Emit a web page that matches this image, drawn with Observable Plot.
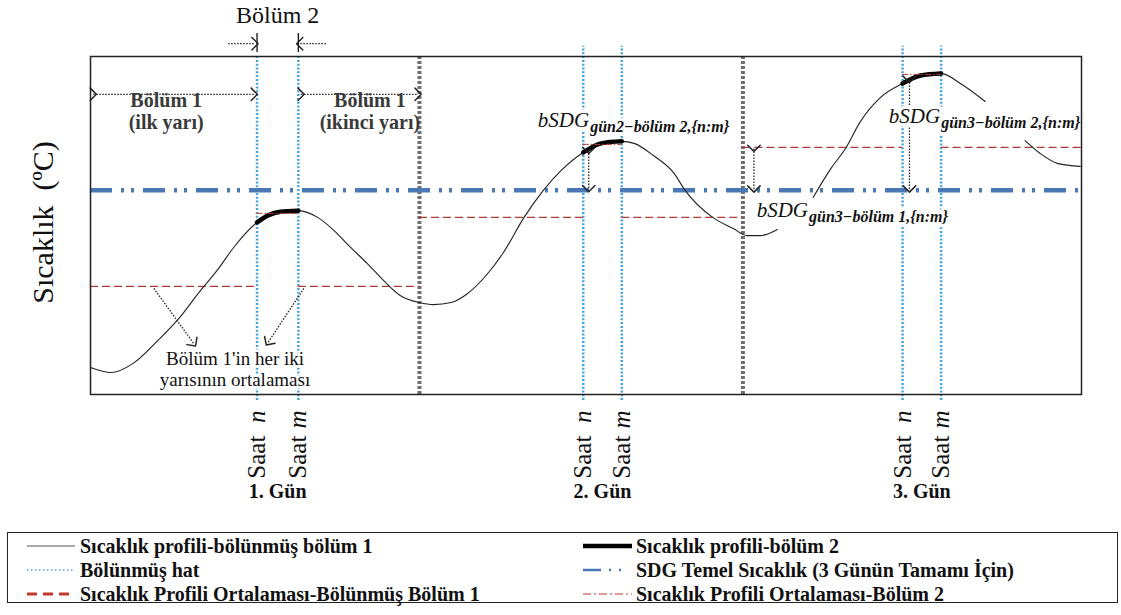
<!DOCTYPE html>
<html><head><meta charset="utf-8">
<script src="https://cdn.jsdelivr.net/npm/d3@7"></script>
<script src="https://cdn.jsdelivr.net/npm/@observablehq/plot@0.6"></script>
<style>
html,body{margin:0;padding:0;background:#fff;}
#wrap{position:relative;width:1121px;height:615px;overflow:hidden;font-family:"Liberation Serif","Times New Roman",serif;}
#chart{position:absolute;left:0;top:0;}
#legendBox{position:absolute;left:7px;top:532px;width:1111px;height:71px;border:1.5px solid #222;box-sizing:border-box;}
.item{position:absolute;height:24px;display:flex;align-items:center;font-weight:bold;font-size:20px;color:#111;white-space:nowrap;}
.item svg{margin-right:3px;flex:none;}
</style></head>
<body><div id="wrap"><div id="chart"></div><div id="legendBox"></div></div>
<script>
// ---------- data ----------
const days = ["1. Gün", "2. Gün", "3. Gün"];
const hourN = [12.1, 35.8, 59.0];          // Saat n
const hourM = [15.1, 38.6, 61.8];          // Saat m
const dayEdges = [0, 23.9, 47.4, 72];      // day boundaries (hours)
const baseTemp = 60.4;                     // SDG base temperature
const part1Avg = [32.0, 52.4, 73.1];       // mean of section 1 (both halves)
const part2Avg = [53.6, 74.0, 94.7];       // mean of section 2

const profileHour = [0,1.5,3.1,4.9,6.3,8.0,9.2,10.4,12.1,12.9,13.8,15.1,16.5,17.7,18.9,20.1,21.3,22.5,23.9,24.9,26.2,27.4,28.8,30.0,31.5,32.9,34.2,35.8,37.1,38.6,39.5,40.9,42.4,43.2,45.2,46.7,47.7,48.7,49.9,
  52.5,53.8,54.9,55.9,57.4,59.0,60.3,61.8,63.2,65.0,
  67.9,69.0,70.3,71.9];
const profileTemp = [8.0,6.5,9.2,16.0,21.9,30.8,36.7,43.5,50.9,53.0,54.1,54.4,52.4,48.5,43.5,38.8,33.7,29.3,27.2,26.6,27.2,29.9,35.5,42.0,52.4,60.4,66.3,71.6,74.3,74.9,74.3,70.7,65.4,60.4,52.4,49.1,47.0,47.0,48.8,
  58.3,66.9,73.1,80.5,87.9,92.0,94.4,95.0,92.0,86.7,
  75.1,71.3,68.3,67.5];
const profilePiece = [...Array(39).fill("a"), ...Array(10).fill("b"), ...Array(4).fill("c")];

const legendLabels = [
  "Sıcaklık profili-bölünmüş bölüm 1",
  "Bölünmüş hat",
  "Sıcaklık Profili Ortalaması-Bölünmüş Bölüm 1",
  "Sıcaklık profili-bölüm 2",
  "SDG Temel Sıcaklık (3 Günün Tamamı İçin)",
  "Sıcaklık Profili Ortalaması-Bölüm 2"
];
const sdgSubs = ["gün2−bölüm 2,{n:m}", "gün3−bölüm 2,{n:m}", "gün3−bölüm 1,{n:m}"];

// ---------- derived tables ----------
const profile = profileHour.map((h, i) => ({hour: h, temp: profileTemp[i], piece: profilePiece[i]}));
const dayOf = h => hourN.findIndex((n, i) => h >= n - 1e-6 && h <= hourM[i] + 1e-6);
const bold = profile.filter(d => dayOf(d.hour) >= 0).map(d => ({...d, day: dayOf(d.hour)}));
const part1Segs = days.flatMap((d, i) => [
  {x1: dayEdges[i], x2: hourN[i], y: part1Avg[i]},
  {x1: hourM[i], x2: dayEdges[i + 1], y: part1Avg[i]}
]);
const part2Segs = days.map((d, i) => ({x1: hourN[i], x2: hourM[i], y: part2Avg[i]}));
const splitLines = days.flatMap((d, i) => [{x: hourN[i], top: i === 0 ? 100 : 103}, {x: hourM[i], top: i === 0 ? 100 : 103}]);
const saatLabels = days.flatMap((d, i) => [{x: hourN[i], v: "n"}, {x: hourM[i], v: "m"}]);
const dayLabels = days.map((d, i) => ({x: (hourN[i] + hourM[i]) / 2, label: d}));

const FONT = '"Liberation Serif", "Times New Roman", serif';
const ctx = document.createElement("canvas").getContext("2d");
ctx.font = `italic 21px ${FONT}`;
const mainW = ctx.measureText("bSDG").width;

// annotation arrows (hour, temperature units)
const arrowsOne = [
  {x1: 10.0, y1: 103.8, x2: 11.95, y2: 103.8},
  {x1: 17.1, y1: 103.8, x2: 15.2, y2: 103.8},
  {x1: 4.6, y1: 31.4, x2: 7.5, y2: 15.1},
  {x1: 15.5, y1: 31.4, x2: 12.9, y2: 15.4}
];
const arrowsTwo = [
  {x1: 0.2, y1: 88.8, x2: 11.9, y2: 88.8},
  {x1: 15.3, y1: 88.8, x2: 23.8, y2: 88.8},
  {x1: 36.2, y1: 72.2, x2: 36.2, y2: 60.9},
  {x1: 48.2, y1: 72.8, x2: 48.2, y2: 60.8},
  {x1: 59.5, y1: 93.2, x2: 59.5, y2: 60.8}
];
const sdgPos = [
  {x: 32.5, y: 79.0},
  {x: 58.0, y: 80.2},
  {x: 48.4, y: 52.4}
];

const sdgMarks = sdgPos.flatMap((p, i) => [
  Plot.text([p], {x: "x", y: "y", text: () => "bSDG", textAnchor: "start", lineAnchor: "bottom",
    fontFamily: FONT, fontStyle: "italic", fontSize: 21, fill: "#111", stroke: "white", strokeWidth: 7}),
  Plot.text([p], {x: "x", y: "y", text: () => sdgSubs[i], textAnchor: "start", lineAnchor: "bottom",
    dx: mainW + 1, dy: 5, fontFamily: FONT, fontStyle: "italic", fontWeight: "bold", fontSize: 16, fill: "#111", stroke: "white", strokeWidth: 7})
]);

const chart = Plot.plot({
  width: 1121, height: 520,
  marginLeft: 90, marginRight: 40, marginTop: 56, marginBottom: 126,
  x: {domain: [0, 72], axis: null},
  y: {domain: [0, 100], axis: null},
  style: {background: "transparent", overflow: "visible", fontFamily: FONT},
  marks: [
    Plot.ruleX(dayEdges.slice(1, -1), {y1: 0, y2: 100, stroke: "#6e6e6e", strokeWidth: 4, strokeDasharray: "3,2"}),
    Plot.ruleX(splitLines, {x: "x", y1: -1.8, y2: "top", stroke: "#45a5e0", strokeWidth: 2.5, strokeDasharray: "2,1.8"}),
    Plot.ruleX([hourN[0], hourM[0]], {y1: 101.2, y2: 106.8, stroke: "#111", strokeWidth: 1.3}),
    Plot.ruleY(part1Segs, {x1: "x1", x2: "x2", y: "y", stroke: "#b03a3a", strokeWidth: 1.2, strokeDasharray: "8,4"}),
    Plot.ruleY([baseTemp], {x1: 0, x2: 72, stroke: "#4a78b4", strokeWidth: 4.5, strokeDasharray: "22,9,3,7,3,9"}),
    Plot.line(profile, {x: "hour", y: "temp", z: "piece", curve: "monotone-x", stroke: "#222", strokeWidth: 1.1}),
    Plot.line(bold, {x: "hour", y: "temp", z: "day", curve: "monotone-x", stroke: "#000", strokeWidth: 4.5}),
    Plot.ruleY(part2Segs, {x1: "x1", x2: "x2", y: "y", stroke: "#c0392b", strokeWidth: 1, strokeDasharray: "6,2,1.5,2"}),
    Plot.link(arrowsOne, {x1: "x1", y1: "y1", x2: "x2", y2: "y2", stroke: "#222", strokeWidth: 1.3, strokeDasharray: "1.5,1.5", markerEnd: "arrow"}),
    Plot.link(arrowsTwo, {x1: "x1", y1: "y1", x2: "x2", y2: "y2", stroke: "#222", strokeWidth: 1.3, strokeDasharray: "1.5,1.5", markerStart: "arrow", markerEnd: "arrow"}),
    // texts
    Plot.text([{t: "Bölüm 2"}], {x: 13.6, y: 112.3, text: "t", fontFamily: FONT, fontSize: 24, fill: "#111"}),
    Plot.text([{t: "Bölüm 1\n(ilk yarı)"}], {x: 5.5, y: 84.0, text: "t", fontFamily: FONT, fontSize: 20, fontWeight: 600, fill: "#3a3a3a", lineHeight: 1.12}),
    Plot.text([{t: "Bölüm 1\n(ikinci yarı)"}], {x: 20.3, y: 84.0, text: "t", fontFamily: FONT, fontSize: 20, fontWeight: 600, fill: "#3a3a3a", lineHeight: 1.12}),
    Plot.text([{t: "Bölüm 1'in her iki\nyarısının ortalaması"}], {x: 10.5, y: 7.7, text: "t", fontFamily: FONT, fontSize: 19, fill: "#111", lineHeight: 1.15, stroke: "white", strokeWidth: 5}),
    ...sdgMarks,
    Plot.text([{t: "Sıcaklık\u00a0 (\u00baC)"}], {x: -3.4, y: 50.9, text: "t", rotate: -90, fontFamily: FONT, fontSize: 30, fill: "#111"}),
    Plot.text(saatLabels, {x: "x", y: -24.9, text: () => "Saat", rotate: -90, textAnchor: "start", fontFamily: FONT, fontSize: 25, fill: "#111"}),
    Plot.text(saatLabels, {x: "x", y: -4.7, text: "v", rotate: -90, textAnchor: "end", fontFamily: FONT, fontStyle: "italic", fontSize: 25, fill: "#111"}),
    Plot.text(dayLabels, {x: "x", y: -30.5, text: "label", lineAnchor: "bottom", fontFamily: FONT, fontWeight: "bold", fontSize: 20, fill: "#111"}),
    Plot.frame({stroke: "#222", strokeWidth: 1.5})
  ]
});
// solid, larger arrowheads
chart.querySelectorAll("marker").forEach(m => {
  m.setAttribute("stroke-dasharray", "none");
  m.setAttribute("markerWidth", "16");
  m.setAttribute("markerHeight", "16");
  m.querySelectorAll("path").forEach(p => p.setAttribute("stroke-width", "0.7"));
});
document.getElementById("chart").appendChild(chart);

// ---------- legend ----------
const samples = [
  `<line x1="0" y1="5" x2="48" y2="5" stroke="#555" stroke-width="1"/>`,
  `<line x1="0" y1="5" x2="48" y2="5" stroke="#45a5e0" stroke-width="1.5" stroke-dasharray="1.5,2.5"/>`,
  `<line x1="0" y1="5" x2="48" y2="5" stroke="#c0392b" stroke-width="3" stroke-dasharray="10,6"/>`,
  `<line x1="0" y1="5" x2="49" y2="5" stroke="#000" stroke-width="4.5"/>`,
  `<line x1="0" y1="5" x2="49" y2="5" stroke="#4a78b4" stroke-width="2.5" stroke-dasharray="18,8,2,8,2,20"/>`,
  `<line x1="0" y1="5" x2="49" y2="5" stroke="#c0392b" stroke-width="1.2" stroke-dasharray="8,3,2,3"/>`
];
const rowY = [546, 570, 594];
const wrap = document.getElementById("wrap");
legendLabels.forEach((lab, i) => {
  const col = Math.floor(i / 3), row = i % 3;
  const div = document.createElement("div");
  div.className = "item";
  div.style.left = (col === 0 ? 27 : 583) + "px";
  div.style.top = (rowY[row] - 12) + "px";
  div.innerHTML = `<svg width="50" height="10">${samples[i]}</svg><span></span>`;
  div.querySelector("span").textContent = lab;
  wrap.appendChild(div);
});
</script>
</body></html>
